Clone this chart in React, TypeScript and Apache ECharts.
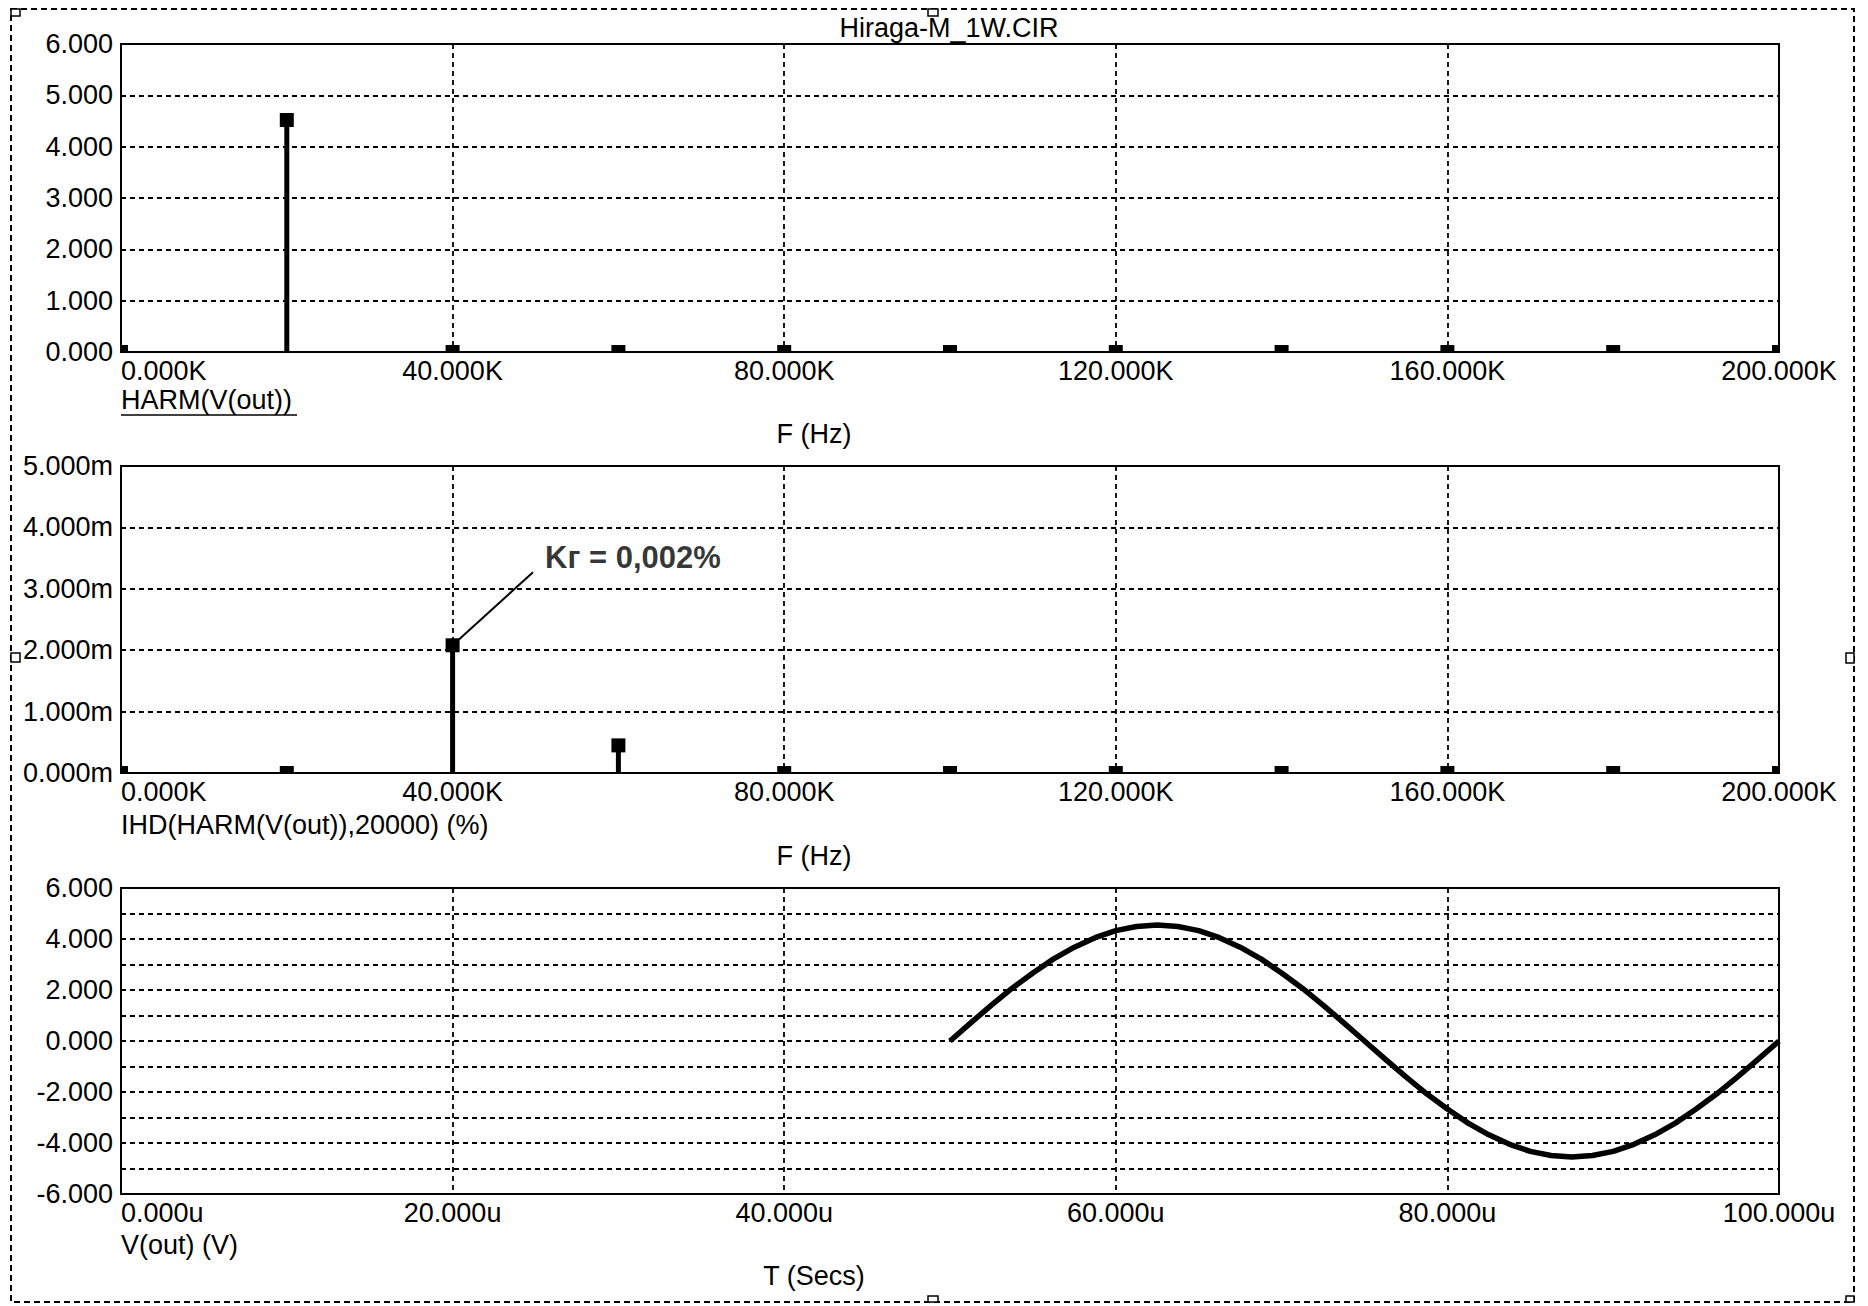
import React, { useEffect, useRef } from "react";
import * as echarts from "echarts";

// ---------- data ----------
const harmFreqs = [0, 20000, 40000, 60000, 80000, 100000, 120000, 140000, 160000, 180000, 200000];
const harmMag = [0, 4.52, 0, 0, 0, 0, 0, 0, 0, 0, 0]; // V
const ihdMilli = [0, 0, 2.08, 0.45, 0, 0, 0, 0, 0, 0, 0]; // m%

const timeUs = [
  50, 51.25, 52.5, 53.75, 55, 56.25, 57.5, 58.75, 60, 61.25, 62.5, 63.75, 65, 66.25, 67.5, 68.75, 70,
  71.25, 72.5, 73.75, 75, 76.25, 77.5, 78.75, 80, 81.25, 82.5, 83.75, 85, 86.25, 87.5, 88.75, 90,
  91.25, 92.5, 93.75, 95, 96.25, 97.5, 98.75, 100,
];
const vOut = [
  0, 0.71, 1.41, 2.07, 2.67, 3.22, 3.68, 4.05, 4.33, 4.49, 4.55, 4.49, 4.33, 4.05, 3.68, 3.22, 2.67,
  2.07, 1.41, 0.71, 0, -0.71, -1.41, -2.07, -2.67, -3.22, -3.68, -4.05, -4.33, -4.49, -4.55, -4.49,
  -4.33, -4.05, -3.68, -3.22, -2.67, -2.07, -1.41, -0.71, 0,
];

const pointerFrom = [40000, 2.08];
const pointerTo = [49700, 3.27];
const annotAt = [51100, 3.51];
const annotText = "Kг = 0,002%";

const titleText = "Hiraga-M_1W.CIR";
const axisTitles = {
  top: "HARM(V(out))",
  mid: "IHD(HARM(V(out)),20000) (%)",
  bot: "V(out) (V)",
  freq: "F (Hz)",
  time: "T (Secs)",
};

// ---------- styles ----------
const FONT = "'Liberation Sans', Arial, sans-serif";
const FS = 27;
const gridDash = { color: "#000", width: 1.8, type: [5, 4] as any };

function stemRender(params: any, api: any) {
  const x = api.value(0);
  const y = api.value(1);
  const top = api.coord([x, y]);
  const base = api.coord([x, 0]);
  const cs = params.coordSys;
  const clip = { x: cs.x, y: cs.y, width: cs.width, height: cs.height };
  const stem = echarts.graphic.clipRectByRect(
    { x: top[0] - 2.5, y: top[1], width: 5, height: Math.max(0, base[1] - top[1]) },
    clip
  );
  const mark = echarts.graphic.clipRectByRect(
    { x: top[0] - 7, y: top[1] - 7, width: 14, height: 14 },
    clip
  );
  const children: any[] = [];
  if (stem && stem.height > 0) children.push({ type: "rect", shape: stem, style: { fill: "#000" } });
  if (mark) children.push({ type: "rect", shape: mark, style: { fill: "#000" } });
  return { type: "group", children };
}

function xAxisCommon(gridIndex: number, max: number, interval: number, fmt: (v: number) => string) {
  return {
    type: "value",
    gridIndex,
    min: 0,
    max,
    interval,
    axisLine: { show: false },
    axisTick: { show: false },
    splitLine: { show: true, lineStyle: gridDash },
    axisLabel: {
      margin: 5,
      fontSize: FS,
      fontFamily: FONT,
      color: "#000",
      formatter: fmt,
      alignMinLabel: "left",
      showMinLabel: true,
      showMaxLabel: true,
      hideOverlap: false,
    },
  };
}

function yAxisCommon(gridIndex: number, min: number, max: number, fmt: (v: number) => string) {
  return {
    type: "value",
    gridIndex,
    min,
    max,
    interval: 1,
    axisLine: { show: false },
    axisTick: { show: false },
    splitLine: { show: true, lineStyle: gridDash },
    axisLabel: {
      margin: 8,
      fontSize: FS,
      fontFamily: FONT,
      color: "#000",
      formatter: fmt,
      showMinLabel: true,
      showMaxLabel: true,
    },
  };
}

function txt(x: number, y: number, text: string, align: string, extra: any = {}) {
  return {
    type: "text",
    x,
    y,
    silent: true,
    style: {
      text,
      fill: "#000",
      font: `${FS}px ${FONT}`,
      align,
      verticalAlign: "middle",
      ...extra,
    },
  };
}

function handle(x: number, y: number, w: number, h: number) {
  return {
    type: "rect",
    shape: { x, y, width: w, height: h },
    style: { fill: "#fff", stroke: "#000", lineWidth: 1.5 },
    silent: true,
  };
}

export default function App() {
  const ref = useRef<HTMLDivElement>(null);

  useEffect(() => {
    document.body.style.margin = "0";
    document.body.style.overflow = "hidden";
    if (!ref.current) return;
    const chart = echarts.init(ref.current, null, { renderer: "svg" });

    const kFmt = (v: number) => (v / 1000).toFixed(3) + "K";
    const gridBox = { show: true, borderColor: "#000", borderWidth: 2, backgroundColor: "transparent" };

    const option: any = {
      animation: false,
      backgroundColor: "#fff",
      textStyle: { fontFamily: FONT },
      grid: [
        { left: 121, top: 44, width: 1658, height: 308, ...gridBox },
        { left: 121, top: 466, width: 1658, height: 307, ...gridBox },
        { left: 121, top: 888, width: 1658, height: 306, ...gridBox },
      ],
      xAxis: [
        xAxisCommon(0, 200000, 40000, kFmt),
        xAxisCommon(1, 200000, 40000, kFmt),
        xAxisCommon(2, 100, 20, (v: number) => v.toFixed(3) + "u"),
      ],
      yAxis: [
        yAxisCommon(0, 0, 6, (v: number) => v.toFixed(3)),
        yAxisCommon(1, 0, 5, (v: number) => v.toFixed(3) + "m"),
        yAxisCommon(2, -6, 6, (v: number) => (Math.round(v) % 2 === 0 ? v.toFixed(3) : "")),
      ],
      series: [
        {
          type: "custom",
          xAxisIndex: 0,
          yAxisIndex: 0,
          renderItem: stemRender,
          data: harmFreqs.map((f, i) => [f, harmMag[i]]),
          clip: false,
        },
        {
          type: "custom",
          xAxisIndex: 1,
          yAxisIndex: 1,
          renderItem: stemRender,
          data: harmFreqs.map((f, i) => [f, ihdMilli[i]]),
          clip: false,
        },
        {
          type: "line",
          xAxisIndex: 1,
          yAxisIndex: 1,
          data: [pointerFrom, pointerTo],
          showSymbol: false,
          symbol: "none",
          lineStyle: { color: "#000", width: 2 },
          silent: true,
          z: 3,
        },
        {
          type: "scatter",
          xAxisIndex: 1,
          yAxisIndex: 1,
          data: [annotAt],
          symbolSize: 1,
          itemStyle: { color: "rgba(0,0,0,0)" },
          silent: true,
          z: 5,
          label: {
            show: true,
            position: "right",
            distance: 0,
            formatter: annotText,
            fontSize: 31,
            fontWeight: "bold",
            fontFamily: FONT,
            color: "#000",
          },
        },
        {
          type: "line",
          xAxisIndex: 2,
          yAxisIndex: 2,
          data: timeUs.map((t, i) => [t, vOut[i]]),
          showSymbol: false,
          symbol: "none",
          lineStyle: { color: "#000", width: 5.5 },
          silent: true,
        },
      ],
      graphic: [
        {
          type: "rect",
          shape: { x: 11, y: 9, width: 1843, height: 1293 },
          style: { fill: "none", stroke: "#000", lineWidth: 2, lineDash: [6, 4] },
          silent: true,
        },
        handle(11, 9, 9, 7),
        handle(928, 9, 10, 7),
        handle(11, 653, 9, 9),
        handle(1846, 653, 8, 10),
        handle(928, 1296, 10, 6),
        handle(1846, 1296, 8, 6),
        txt(949, 28, titleText, "center"),
        txt(121, 400, axisTitles.top, "left"),
        {
          type: "line",
          shape: { x1: 121, y1: 415, x2: 297, y2: 415 },
          style: { stroke: "#000", lineWidth: 1.5 },
          silent: true,
        },
        txt(814, 434, axisTitles.freq, "center"),
        txt(121, 825, axisTitles.mid, "left"),
        txt(814, 856, axisTitles.freq, "center"),
        txt(121, 1245, axisTitles.bot, "left"),
        txt(814, 1276, axisTitles.time, "center"),
      ],
    };

    chart.setOption(option);
    return () => chart.dispose();
  }, []);

  return <div ref={ref} style={{ width: 1868, height: 1306 }} />;
}
